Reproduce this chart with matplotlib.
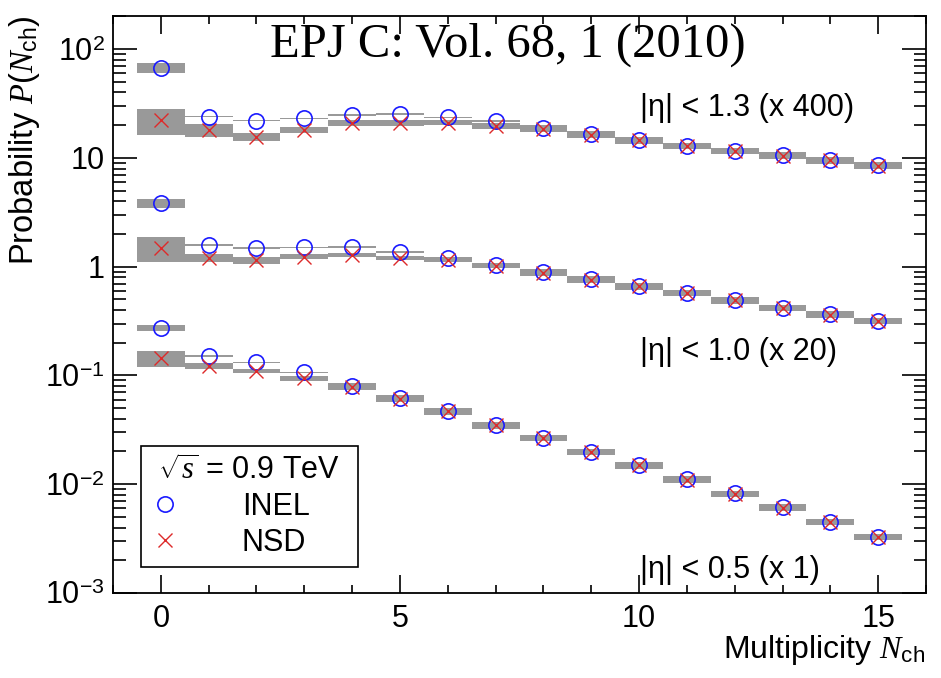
import numpy as np
import matplotlib
matplotlib.use('Agg')
import matplotlib.pyplot as plt
from matplotlib.ticker import MultipleLocator, LogLocator, FixedLocator, FixedFormatter, NullFormatter

plt.rcParams['font.family'] = ['Liberation Sans', 'DejaVu Sans']
plt.rcParams['mathtext.fontset'] = 'custom'
plt.rcParams['mathtext.rm'] = 'Liberation Sans'
plt.rcParams['mathtext.sf'] = 'Liberation Sans'
plt.rcParams['mathtext.it'] = 'Liberation Serif:italic'

# multiplicity bins
n_ch = np.arange(16)

# |eta| < 1.3, scaled x400
inel_13 = [67.8, 24.0, 22.0, 23.2, 24.9, 25.4, 23.7, 21.9, 18.8, 16.5, 14.6, 13.0, 11.7, 10.6, 9.6, 8.6]
nsd_13 = [22.4, 18.1, 15.7, 18.1, 20.9, 21.1, 21.1, 19.7, 18.6, 16.4, 14.5, 12.9, 11.6, 10.5, 9.5, 8.5]
# |eta| < 1.0, scaled x20
inel_10 = [3.83, 1.58, 1.48, 1.51, 1.52, 1.37, 1.21, 1.04, 0.888, 0.766, 0.664, 0.576, 0.494, 0.420, 0.365, 0.319]
nsd_10 = [1.48, 1.21, 1.15, 1.24, 1.28, 1.21, 1.15, 1.02, 0.88, 0.76, 0.66, 0.57, 0.49, 0.415, 0.36, 0.315]
# |eta| < 0.5, scaled x1
inel_05 = [0.275, 0.151, 0.132, 0.107, 0.0805, 0.0615, 0.0470, 0.0350, 0.0267, 0.0199,
           0.0150, 0.0111, 0.00822, 0.00612, 0.00451, 0.00328]
nsd_05 = [0.1435, 0.122, 0.110, 0.094, 0.079, 0.061, 0.0467, 0.0348, 0.0265, 0.0198,
          0.0149, 0.0110, 0.0082, 0.0061, 0.0045, 0.00327]

# relative systematic uncertainties (half height of grey boxes)
sys_inel_13 = [0.10, 0.015, 0.015, 0.015, 0.015, 0.015, 0.015, 0.015] + [0.065] * 8
sys_nsd_13 = [0.27, 0.13, 0.09, 0.07, 0.065, 0.06, 0.05, 0.06] + [0.065] * 8
sys_inel_10 = [0.09, 0.015, 0.015, 0.015, 0.015, 0.015, 0.015, 0.03] + [0.065] * 8
sys_nsd_10 = [0.26, 0.09, 0.07, 0.05, 0.04, 0.04, 0.04, 0.05] + [0.065] * 8
sys_inel_05 = [0.065, 0.015, 0.015, 0.015] + [0.065] * 12
sys_nsd_05 = [0.17, 0.06, 0.05, 0.05] + [0.065] * 12

labels = ['|η| < 1.3 (x 400)', '|η| < 1.0 (x 20)', '|η| < 0.5 (x 1)']
label_y = [0.841, 0.418, 0.040]

fig = plt.figure(figsize=(9.41, 6.78), dpi=100)
ax = fig.add_axes([0.1201, 0.1254, 0.8640, 0.8510])
ax.set_yscale('log')

box_color = '#999999'
for vals, errs in [(inel_13, sys_inel_13), (nsd_13, sys_nsd_13),
                   (inel_10, sys_inel_10), (nsd_10, sys_nsd_10),
                   (inel_05, sys_inel_05), (nsd_05, sys_nsd_05)]:
    v = np.array(vals)
    e = np.array(errs)
    ax.bar(n_ch, v * (1 + e) - v * (1 - e), bottom=v * (1 - e), width=1.0,
           color=box_color, linewidth=0, zorder=1)

for i, (inel, nsd) in enumerate([(inel_13, nsd_13), (inel_10, nsd_10), (inel_05, nsd_05)]):
    h1, = ax.plot(n_ch, inel, linestyle='none', marker='o', ms=11, mfc='none',
                  mec='#1a1aff', mew=1.2, zorder=3, label='INEL')
    h2, = ax.plot(n_ch, nsd, linestyle='none', marker='x', ms=10, color='#dd2a2a',
                  mew=1.0, zorder=4, label='NSD')
    if i == 0:
        handles = [h1, h2]

for txt, y in zip(labels, label_y):
    ax.text(0.648, y, txt, transform=ax.transAxes, fontsize=22, ha='left', va='center')

ax.set_xlim(-1, 16)
ax.set_ylim(1e-3, 202)

ax.xaxis.set_major_locator(MultipleLocator(5))
ax.xaxis.set_minor_locator(MultipleLocator(1))
ax.yaxis.set_major_locator(FixedLocator([1e-3, 1e-2, 1e-1, 1, 10, 100]))
ax.yaxis.set_major_formatter(FixedFormatter(['$10^{-3}$', '$10^{-2}$', '$10^{-1}$', '1', '10', '$10^{2}$']))
ax.yaxis.set_minor_locator(LogLocator(base=10, subs=np.arange(2, 10), numticks=20))
ax.yaxis.set_minor_formatter(NullFormatter())

ax.tick_params(axis='x', which='major', direction='in', length=13, width=1.2,
               top=True, bottom=True, labelsize=22, pad=8)
ax.tick_params(axis='x', which='minor', direction='in', length=6, width=1.2, top=True, bottom=True)
ax.tick_params(axis='y', which='major', direction='in', length=17, width=1.2,
               left=True, right=True, labelsize=22, pad=6)
ax.tick_params(axis='y', which='minor', direction='in', length=9, width=1.2, left=True, right=True)
for s in ax.spines.values():
    s.set_linewidth(1.3)

leg = ax.legend(handles=handles, labels=['INEL', 'NSD'], title=r'$\sqrt{s}$ = 0.9 TeV',
                loc='lower left', bbox_to_anchor=(0.0344, 0.045, 0.267, 0.215), mode='expand',
                borderaxespad=0, fontsize=22, title_fontsize=22, handlelength=1.0,
                handletextpad=2.0, borderpad=0.3, labelspacing=0.2, frameon=True,
                fancybox=False, edgecolor='black', framealpha=1)
leg.get_frame().set_linewidth(1.2)

fig.text(0.5393, 0.916, 'EPJ C: Vol. 68, 1 (2010)', family='Liberation Serif',
         fontsize=35, ha='center', va='baseline')
fig.text(0.026, 0.978, r'Probability $P(N_{\rm ch})$', rotation=90, fontsize=23.5,
         ha='center', va='top')
fig.text(0.983, 0.03, r'Multiplicity $N_{\rm ch}$', fontsize=23, ha='right', va='baseline')

fig.savefig('out.png', dpi=100)
